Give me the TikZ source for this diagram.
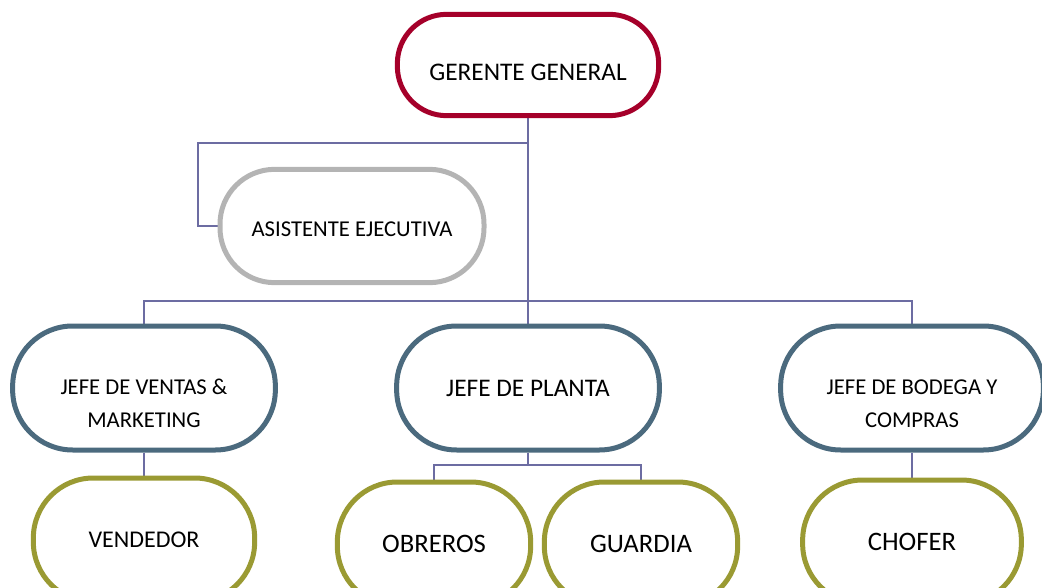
\documentclass[tikz,border=0pt]{standalone}
\usepackage{fontspec}
\setmainfont{Carlito}
\usetikzlibrary{backgrounds}
\definecolor{rojo}{HTML}{A5002A}
\definecolor{gris}{HTML}{B4B4B4}
\definecolor{pizarra}{HTML}{4B6A7E}
\definecolor{oliva}{HTML}{9A9A33}
\definecolor{linea}{HTML}{6C6CA2}
\begin{document}
\begin{tikzpicture}[x=0.75pt,y=-0.75pt]
	\tikzstyle{every node}+=[inner sep=0pt]
	\tikzstyle{puesto}=[draw, fill=white, line width=3.75pt, rounded corners=45pt, align=center, text=black]
	\tikzstyle{jefe}=[puesto, draw=pizarra, minimum width=197pt, minimum height=93pt]
	\tikzstyle{operario}=[puesto, draw=oliva, minimum height=93pt, font=\fontsize{20}{24}\selectfont]
	\tikzstyle{enlace}=[draw=linea, line width=1.3pt]
	\useasboundingbox (0,0) rectangle (1042,588);
	\clip (0,0) rectangle (1042,588);
	% gerencia
	\node [puesto, draw=rojo, rounded corners=37pt, minimum width=196pt, minimum height=76pt, font=\fontsize{19}{23}\selectfont] (gg) at (528,65) {\rule{0pt}{24pt}GERENTE GENERAL};
	\node [puesto, draw=gris, rounded corners=41pt, minimum width=198pt, minimum height=85pt, font=\fontsize{17}{21}\selectfont] (asist) at (352,226) {\rule{0pt}{15.5pt}ASISTENTE EJECUTIVA};
	% jefaturas
	\node [jefe, font=\fontsize{17}{24.75}\selectfont] (ventas) at (144,388) {\rule{0pt}{35pt}JEFE DE VENTAS \&\\MARKETING};
	\node [jefe, font=\fontsize{19}{23}\selectfont] (planta) at (528,388) {JEFE DE PLANTA};
	\node [jefe, font=\fontsize{17}{24.75}\selectfont] (bodega) at (912,388) {\rule{0pt}{35pt}JEFE DE BODEGA Y\\COMPRAS};
	% operarios
	\node [operario, minimum width=166pt, font=\fontsize{18}{22}\selectfont] (vendedor) at (144,540) {VENDEDOR};
	\node [operario, minimum width=145pt] (obreros) at (434,544) {OBREROS};
	\node [operario, minimum width=145pt] (guardia) at (641,544) {GUARDIA};
	\node [operario, minimum width=164pt] (chofer) at (912,542) {CHOFER};
	% conectores
	\coordinate (asistbend) at (198,143);
	\coordinate (jefesbus) at (528,301);
	\coordinate (plantabus) at (528,465);
	\begin{scope}[on background layer]
		\draw [enlace] (gg.south) -- (planta.north);
		\draw [enlace] (gg.south |- asistbend) -- (asistbend) |- (asist.west);
		\draw [enlace] (ventas.north) |- (jefesbus) -| (bodega.north);
		\draw [enlace] (ventas.south) -- (vendedor.north);
		\draw [enlace] (planta.south) -- (plantabus);
		\draw [enlace] (obreros.north) |- (plantabus) -| (guardia.north);
		\draw [enlace] (bodega.south) -- (chofer.north);
	\end{scope}
\end{tikzpicture}
\end{document}
